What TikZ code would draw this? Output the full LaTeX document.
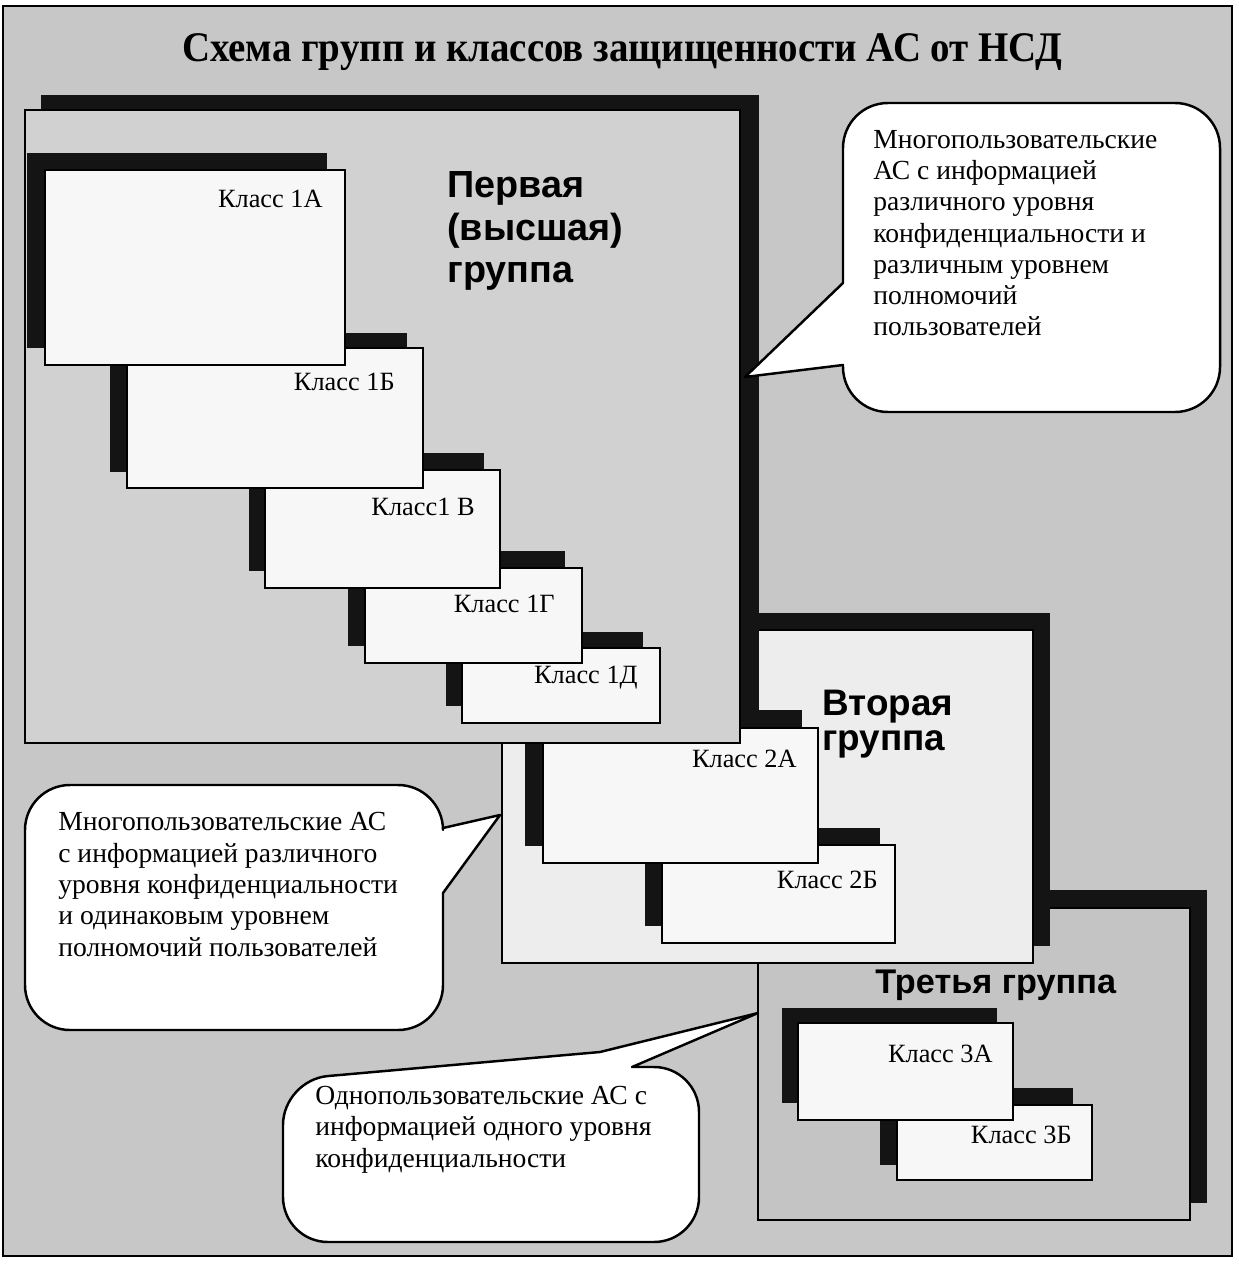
\documentclass[tikz,border=0pt]{standalone}
\usepackage{fontspec}
\setmainfont{Liberation Serif}
\newfontfamily\headfont{Liberation Sans}
\usepackage{graphicx}
\definecolor{bgc}{gray}{0.78}
\definecolor{g1c}{gray}{0.82}
\definecolor{g2c}{gray}{0.93}
\definecolor{g3c}{gray}{0.77}
\definecolor{boxc}{gray}{0.97}
\definecolor{shc}{gray}{0.08}
\tikzset{
  frame/.style={draw=black, line width=1.1pt},
  grp/.style={draw=black, line width=1.2pt},
  cls/.style={draw=black, line width=1.2pt, fill=boxc},
  shd/.style={fill=shc},
  lbl/.style={anchor=base east, inner sep=0pt, font=\fontsize{15pt}{18pt}\selectfont},
  headA/.style={anchor=base west, inner sep=0pt, align=left, font=\headfont\bfseries\fontsize{21.5pt}{24.4pt}\selectfont},
  headB/.style={anchor=base west, inner sep=0pt, align=left, font=\headfont\bfseries\fontsize{21pt}{19.8pt}\selectfont},
  headC/.style={anchor=base west, inner sep=0pt, align=left, font=\headfont\bfseries\fontsize{19.5pt}{22pt}\selectfont},
  note/.style={anchor=base west, inner sep=0pt, align=left, font=\fontsize{15.7pt}{17.8pt}\selectfont},
  callout/.style={draw=black, line width=1.4pt, fill=white, line join=round},
  ttl/.style={anchor=base, inner sep=0pt, font=\bfseries\fontsize{24pt}{28pt}\selectfont}
}
\begin{document}
\begin{tikzpicture}[x=0.02cm,y=-0.02cm]
\useasboundingbox (0,0) rectangle (1238,1270);
\fill[white] (0,0) rectangle (1238,1270);
\filldraw[fill=bgc, frame] (3,6) rectangle (1232,1256);

% ---- group 3
\fill[shd] (775,890) rectangle (1207,1203);
\filldraw[grp, fill=g3c] (758,908) rectangle (1190,1220);
\fill[shd] (880,1088) rectangle (1073,1165);
\filldraw[cls] (897,1105) rectangle (1092,1180);
\fill[shd] (782,1008) rectangle (997,1103);
\filldraw[cls] (798,1023) rectangle (1013,1120);

% ---- group 2
\fill[shd] (519,613) rectangle (1050,946);
\filldraw[grp, fill=g2c] (502,630) rectangle (1033,963);

% ---- group 1 shadow
\fill[shd] (41,95) rectangle (759,728);

% ---- group 2 classes
\fill[shd] (645,828) rectangle (880,926);
\filldraw[cls] (662,845) rectangle (895,943);
\fill[shd] (525,710) rectangle (802,846);
\filldraw[cls] (543,728) rectangle (818,863);

% ---- group 1 box and classes
\filldraw[grp, fill=g1c] (25,110) rectangle (740,743);
\fill[shd] (446,632) rectangle (643,706);
\filldraw[cls] (462,648) rectangle (660,723);
\fill[shd] (348,551) rectangle (565,646);
\filldraw[cls] (365,568) rectangle (582,663);
\fill[shd] (249,453) rectangle (484,571);
\filldraw[cls] (265,470) rectangle (500,588);
\fill[shd] (110,333) rectangle (407,472);
\filldraw[cls] (127,348) rectangle (423,488);
\fill[shd] (27,153) rectangle (327,348);
\filldraw[cls] (45,170) rectangle (345,365);

% ---- title
\node[ttl] (title) at (622,62) {\resizebox{17.6cm}{\height}{Схема групп и классов защищенности АС от НСД}};

% ---- group headings (anchor = baseline of last line)
\node[headA] (h1) at (447,283) {Первая\\(высшая)\\группа};
\node[headB] (h2) at (822,750) {Вторая\\группа};
\node[headC] (h3) at (875,993) {Третья группа};

% ---- class labels
\node[lbl] (c1a) at (323,208) {Класс 1А};
\node[lbl] (c1b) at (395,390) {Класс 1Б};
\node[lbl] (c1v) at (475,515) {Класс1 В};
\node[lbl] (c1g) at (555,612) {Класс 1Г};
\node[lbl] (c1d) at (638,683) {Класс 1Д};
\node[lbl] (c2a) at (797,767) {Класс 2А};
\node[lbl] (c2b) at (878,888) {Класс 2Б};
\node[lbl] (c3a) at (993,1062) {Класс 3А};
\node[lbl] (c3b) at (1072,1143) {Класс 3Б};

% ---- callouts
\coordinate (tip1) at (745,377);
\coordinate (tip2) at (500,815);
\coordinate (tip3) at (758,1013);
\filldraw[callout] (843,283) [rounded corners=0.9cm] -- (843,103) -- (1220,103) -- (1220,412) -- (843,412) [sharp corners] -- (843,365) -- (tip1) -- cycle;
\filldraw[callout] (443,893) [rounded corners=0.9cm] -- (443,1030) -- (25,1030) -- (25,785) -- (443,785) [sharp corners] -- (443,828) -- (tip2) -- cycle;
\filldraw[callout] (632,1067) [rounded corners=0.9cm] -- (699,1067) -- (699,1242) -- (283,1242) -- (283,1080) [sharp corners] -- (600,1052) -- (tip3) -- cycle;

\node[note] (n1) at (873,336) {Многопользовательские\\АС с информацией\\различного уровня\\конфиденциальности и\\различным уровнем\\полномочий\\пользователей};
\node[note] (n2) at (58,956) {Многопользовательские АС\\с информацией различного\\уровня конфиденциальности\\и одинаковым уровнем\\полномочий пользователей};
\node[note] (n3) at (315,1167) {Однопользовательские АС с\\информацией одного уровня\\конфиденциальности};
\end{tikzpicture}
\end{document}
